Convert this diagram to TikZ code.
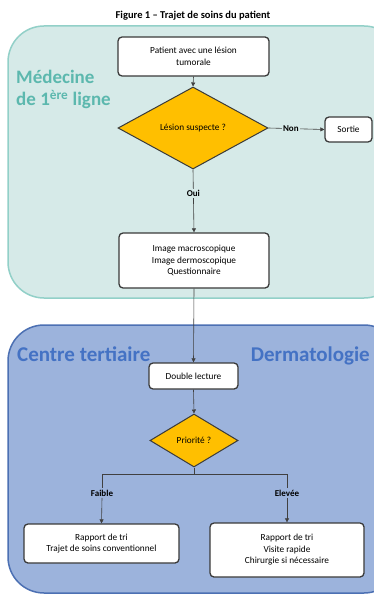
\documentclass[tikz,border=0pt]{standalone}
\usepackage{fontspec}
\setmainfont{Carlito}[BoldFont={Carlito Bold}]
\usetikzlibrary{shapes.geometric,arrows.meta}
\definecolor{tealbg}{HTML}{D6EAE8}
\definecolor{tealline}{HTML}{92D0C8}
\definecolor{tealtext}{HTML}{5CB8AE}
\definecolor{bluebg}{HTML}{9CB3DC}
\definecolor{blueline}{HTML}{4C70B3}
\definecolor{bluetext}{HTML}{4472C4}
\definecolor{orangefill}{HTML}{FFBF00}
\definecolor{boxline}{HTML}{3A3A3A}
\tikzset{
  stepbox/.style={draw=boxline, line width=1.3pt, fill=white, rounded corners=4pt, align=center, inner sep=1pt, font=\fontsize{9.3}{11.5}\selectfont},
  decision/.style={diamond, draw=boxline, line width=1pt, fill=orangefill, inner sep=0pt, font=\fontsize{9.3}{11.5}\selectfont, align=center},
  conn/.style={draw=black!75, line width=0.6pt},
  arr/.style={conn, -{Triangle[length=4pt,width=4pt]}},
  lbl/.style={font=\fontsize{9}{11}\selectfont\bfseries, inner sep=1.5pt},
  zonetitle/.style={font=\fontsize{19}{20}\selectfont\bfseries, inner sep=0pt, anchor=base west},
  zonetitleb/.style={font=\fontsize{21}{22}\selectfont\bfseries, inner sep=0pt}
}
\begin{document}
\begin{tikzpicture}[x=1pt,y=-1pt]
\useasboundingbox (0,0) rectangle (374,596);
\fill[white] (0,0) rectangle (374,596);
\begin{scope}
\clip (0,0) rectangle (374,596);
\draw[tealline, fill=tealbg, line width=1.5pt, rounded corners=36pt] (8,26) rectangle (400,298);
\draw[blueline, fill=bluebg, line width=1.5pt, rounded corners=36pt] (8,325) rectangle (400,593);
\end{scope}
\node[font=\fontsize{10.5}{12}\selectfont\bfseries] (title) at (193,16) {Figure 1 – Trajet de soins du patient};
\node[zonetitle, text=tealtext] (zone1a) at (16,84) {Médecine};
\node[zonetitle, text=tealtext] (zone1b) at (16,106) {de 1\textsuperscript{ère} ligne};
\node[zonetitleb, text=bluetext, anchor=base west] (zone2a) at (17,361) {Centre tertiaire};
\node[zonetitleb, text=bluetext, anchor=base east] (zone2b) at (370,361) {Dermatologie};

\node[stepbox, minimum width=151pt, minimum height=39pt] (patient) at (193.5,56.5) {Patient avec une lésion\\tumorale};
\node[decision, minimum width=150pt, minimum height=82pt] (d1) at (193,128) {Lésion suspecte ?};
\node[stepbox, minimum width=47pt, minimum height=25pt] (sortie) at (348.5,129.5) {Sortie};
\node[stepbox, minimum width=150pt, minimum height=55pt] (img) at (194,260.5) {Image macroscopique\\Image dermoscopique\\Questionnaire};
\node[stepbox, minimum width=89pt, minimum height=26pt] (dbl) at (193.5,376) {Double lecture};
\node[decision, minimum width=88pt, minimum height=53pt] (d2) at (194,440.5) {Priorité ?};
\node[stepbox, minimum width=155pt, minimum height=39pt] (left) at (101.5,543.5) {Rapport de tri\\Trajet de soins conventionnel};
\node[stepbox, minimum width=154pt, minimum height=54pt] (right) at (287,550) {Rapport de tri\\Visite rapide\\Chirurgie si nécessaire};

\draw[arr] (patient.south) -- (d1.north);
\draw[arr] (d1.east) -- node[lbl, fill=tealbg, pos=0.4] (non) {Non} (sortie.west);
\draw[arr] (d1.south) -- node[lbl, fill=tealbg, pos=0.38] (oui) {Oui} (img.north);
\draw[arr] (img.south) -- (dbl.north);
\draw[arr] (dbl.south) -- (d2.north);
\coordinate (br) at (194,474);
\node[lbl, fill=bluebg] (faible) at (102,493) {Faible};
\node[lbl, fill=bluebg] (elevee) at (287,493) {Elevée};
\draw[conn] (d2.south) -- (br);
\draw[conn] (br) -| (faible.north);
\draw[conn] (br) -| (elevee.north);
\draw[arr] (faible.south) -- (left.north);
\draw[arr] (elevee.south) -- (right.north);
\end{tikzpicture}
\end{document}
